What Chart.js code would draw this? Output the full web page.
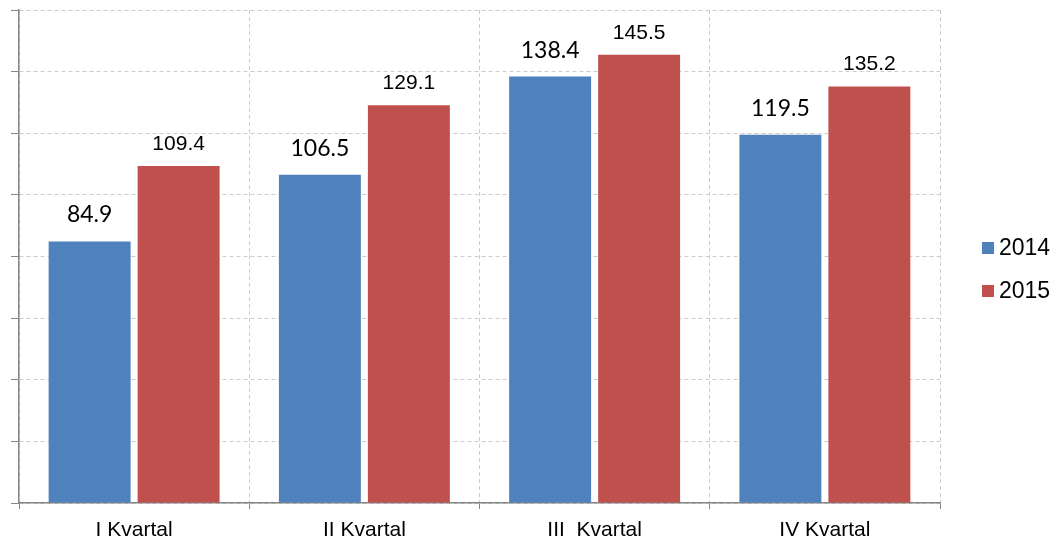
<!DOCTYPE html>
<html>
<head>
<meta charset="utf-8">
<script src="https://cdn.jsdelivr.net/npm/chart.js@4.4.0/dist/chart.umd.min.js"></script>
<style>
  html, body { margin: 0; padding: 0; background: #ffffff; }
  #wrap { width: 1056px; height: 540px; position: relative; }
</style>
</head>
<body>
<div id="wrap"><canvas id="c" width="1056" height="540"></canvas></div>
<script>
const categories = ["I Kvartal", "II Kvartal", "III  Kvartal", "IV Kvartal"];
const seriesNames = ["2014", "2015"];
const values2014 = [84.9, 106.5, 138.4, 119.5];
const values2015 = [109.4, 129.1, 145.5, 135.2];
const yMin = 0, yMax = 160, yStep = 20;

const colors = ["#4f81bd", "#c0504d"];
const labelFonts = ["23px Lato", "21px Arial"];
const labelGaps = [19, 16];

const valueLabels = {
  id: 'valueLabels',
  afterDatasetsDraw(chart) {
    const ctx = chart.ctx;
    chart.data.datasets.forEach((ds, i) => {
      const meta = chart.getDatasetMeta(i);
      ctx.save();
      ctx.font = labelFonts[i];
      ctx.fillStyle = '#000000';
      ctx.textAlign = 'center';
      ctx.textBaseline = 'alphabetic';
      meta.data.forEach((bar, j) => {
        ctx.fillText(ds.data[j].toFixed(1), bar.x, bar.y - labelGaps[i]);
      });
      ctx.restore();
    });
  }
};

const sideLegend = {
  id: 'sideLegend',
  afterDraw(chart) {
    const ctx = chart.ctx;
    ctx.save();
    chart.data.datasets.forEach((ds, i) => {
      const y = 242 + i * 43;
      ctx.fillStyle = ds.backgroundColor;
      ctx.fillRect(982, y, 12, 12);
      ctx.fillStyle = '#000000';
      ctx.font = '23px Arial';
      ctx.textAlign = 'left';
      ctx.textBaseline = 'middle';
      ctx.fillText(ds.label, 999, y + 7);
    });
    ctx.restore();
  }
};

new Chart(document.getElementById('c'), {
  type: 'bar',
  data: {
    labels: categories,
    datasets: [
      { label: seriesNames[0], data: values2014, backgroundColor: colors[0], categoryPercentage: 0.773, barPercentage: 0.921 },
      { label: seriesNames[1], data: values2015, backgroundColor: colors[1], categoryPercentage: 0.773, barPercentage: 0.921 }
    ]
  },
  options: {
    responsive: false,
    animation: false,
    devicePixelRatio: 1,
    layout: { padding: { left: 11, top: 10, right: 116, bottom: 0 } },
    plugins: {
      legend: { display: false },
      tooltip: { enabled: false }
    },
    scales: {
      x: {
        grid: {
          offset: true,
          color: '#cccccc',
          tickColor: '#868686',
          tickLength: 6,
          tickBorderDash: []
        },
        border: { color: '#868686', width: 1.5, dash: [4, 3] },
        ticks: {
          color: '#000000',
          font: { family: 'Arial', size: 21 },
          padding: 9,
          maxRotation: 0,
          autoSkip: false
        },
        afterFit(scale) { scale.height = 37; }
      },
      y: {
        min: yMin,
        max: yMax,
        grid: {
          color: '#cccccc',
          tickColor: '#868686',
          tickLength: 8,
          tickBorderDash: []
        },
        border: { color: '#868686', width: 1.5, dash: [4, 3] },
        ticks: { display: false, stepSize: yStep },
        afterFit(scale) { scale.width = 8; }
      }
    }
  },
  plugins: [valueLabels, sideLegend]
});
</script>
</body>
</html>
